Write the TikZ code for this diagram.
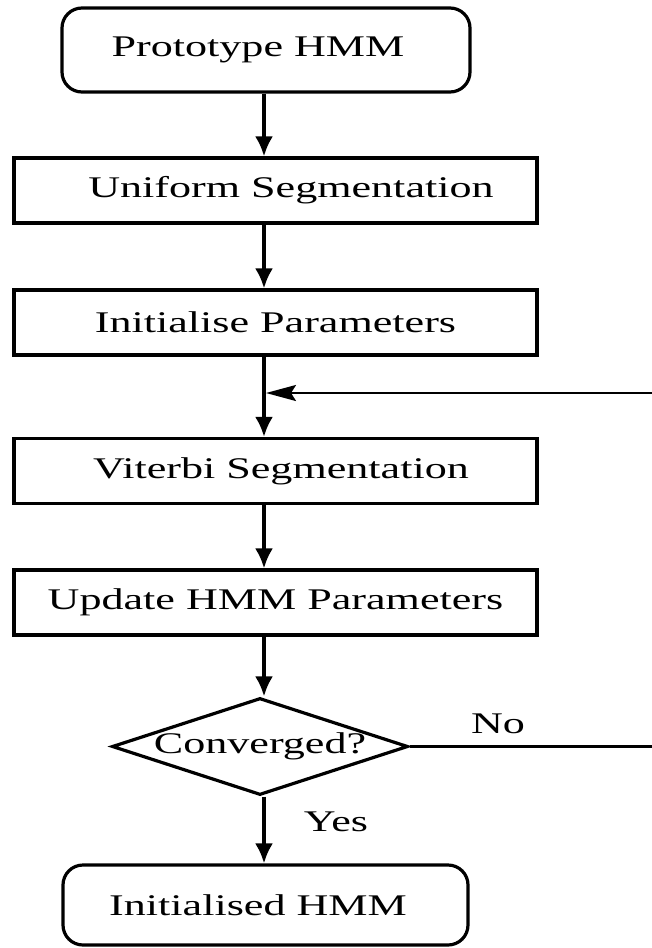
\documentclass[tikz,border=0pt]{standalone}
\usepackage{fontspec}
\setmainfont{Liberation Serif}[FakeStretch=1.47]
\usetikzlibrary{shapes.geometric,arrows.meta}
\begin{document}
\begin{tikzpicture}[x=1pt,y=-1pt,
  every node/.style={font=\fontsize{30}{36}\selectfont},
  roundbox/.style={draw,line width=3.2pt,rounded corners=20pt,minimum width=408pt,minimum height=84pt,inner sep=0pt},
  stepbox/.style={draw,line width=3.2pt,minimum width=523pt,minimum height=65pt,inner sep=0pt},
  decbox/.style={draw,diamond,line width=3.2pt,minimum width=296pt,minimum height=97pt,inner sep=0pt},
  arr/.style={line width=3.4pt,-{Latex[length=20pt,width=18pt]}},
  thinline/.style={line width=2.2pt},
  fbarr/.style={line width=2.2pt,-{Stealth[length=30pt,width=16pt,inset=5pt]}}
]
\fill[white] (0,0) rectangle (652,948);
\path[use as bounding box] (0,0) rectangle (652,948);

\coordinate (ax) at (264,0);

\node[roundbox] (proto) at (266,50) {Prototype HMM\hspace*{16pt}};
\node[stepbox] (uni) at (275.5,190.5) {\hspace*{31pt}Uniform Segmentation};
\node[stepbox] (init) at (275.5,322.5) {Initialise Parameters};
\node[stepbox] (vit) at (275.5,471) {\hspace*{11pt}Viterbi Segmentation};
\node[stepbox] (upd) at (275.5,602.5) {Update HMM Parameters};
\node[decbox] (conv) at (260,746.5) {\makebox[0pt]{Converged?}};
\node[roundbox,minimum width=405pt,minimum height=80pt] (done) at (265.5,905) {Initialised HMM\hspace*{15pt}};

\node (no) at (498,724) {No};
\node (yes) at (336,822) {Yes};

\coordinate (fbstart) at (652,393);
\coordinate (fbend) at (266,393);
\coordinate (noend) at (652,746.5);

\draw[arr] (proto.south -| ax) -- (uni.north -| ax);
\draw[arr] (uni.south -| ax) -- (init.north -| ax);
\draw[arr] (init.south -| ax) -- (vit.north -| ax);
\draw[arr] (vit.south -| ax) -- (upd.north -| ax);
\draw[arr] (upd.south -| ax) -- (conv.north -| ax);
\draw[arr] (conv.south -| ax) -- (done.north -| ax);
\draw[fbarr] (fbstart) -- (fbend);
\draw[thinline] (conv.east) -- (noend);
\end{tikzpicture}
\end{document}
